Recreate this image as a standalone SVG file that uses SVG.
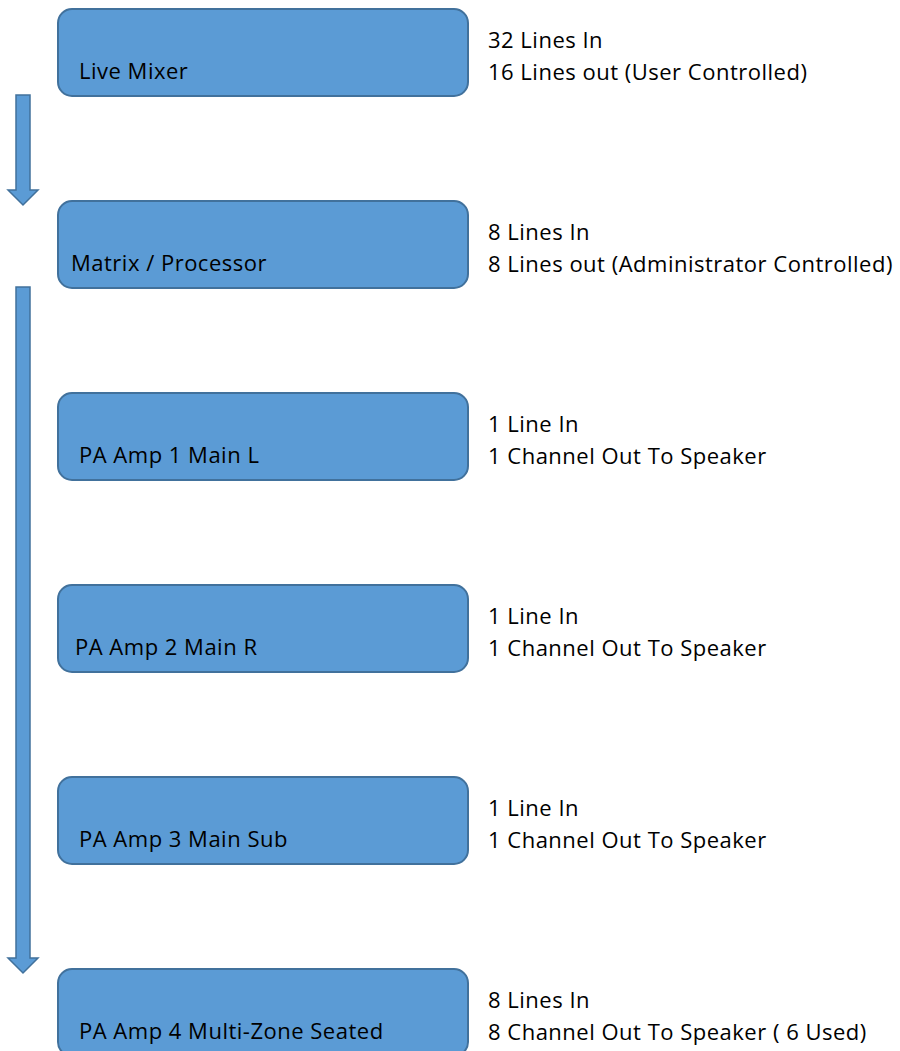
<svg xmlns="http://www.w3.org/2000/svg" width="900" height="1051" viewBox="0 0 900 1051">
<style>
.box{fill:#5B9BD5;stroke:#41719C;stroke-width:2}
.arr{fill:#5B9BD5;stroke:#41719C;stroke-width:1.5;stroke-linejoin:miter}
text{font-family:"Open Sans","Liberation Sans",Arial,sans-serif;font-size:22px;letter-spacing:0.5px;fill:#000}
</style>
<rect width="900" height="1051" fill="#fff"/>
<g id="connectors">
<path class="arr" d="M16,95 H30 V190 H38 L23,205 L8,190 H16 Z"/>
<path class="arr" d="M16,287 H30 V958 H38 L23,973 L8,958 H16 Z"/>
</g>
<g id="live-mixer">
<rect class="box" x="58" y="9" width="410" height="87" rx="14"/>
<text x="79" y="79">Live Mixer</text>
<text x="488" y="48">32 Lines In</text>
<text x="488" y="80">16 Lines out (User Controlled)</text>
</g>
<g id="matrix-processor">
<rect class="box" x="58" y="201" width="410" height="87" rx="14"/>
<text x="71" y="271">Matrix / Processor</text>
<text x="488" y="240">8 Lines In</text>
<text x="488" y="272">8 Lines out (Administrator Controlled)</text>
</g>
<g id="pa-amp-1">
<rect class="box" x="58" y="393" width="410" height="87" rx="14"/>
<text x="79" y="463">PA Amp 1 Main L</text>
<text x="488" y="432">1 Line In</text>
<text x="488" y="464">1 Channel Out To Speaker</text>
</g>
<g id="pa-amp-2">
<rect class="box" x="58" y="585" width="410" height="87" rx="14"/>
<text x="75" y="655">PA Amp 2 Main R</text>
<text x="488" y="624">1 Line In</text>
<text x="488" y="656">1 Channel Out To Speaker</text>
</g>
<g id="pa-amp-3">
<rect class="box" x="58" y="777" width="410" height="87" rx="14"/>
<text x="79" y="847">PA Amp 3 Main Sub</text>
<text x="488" y="816">1 Line In</text>
<text x="488" y="848">1 Channel Out To Speaker</text>
</g>
<g id="pa-amp-4">
<rect class="box" x="58" y="969" width="410" height="87" rx="14"/>
<text x="79" y="1039">PA Amp 4 Multi-Zone Seated</text>
<text x="488" y="1008">8 Lines In</text>
<text x="488" y="1040">8 Channel Out To Speaker ( 6 Used)</text>
</g>
</svg>
